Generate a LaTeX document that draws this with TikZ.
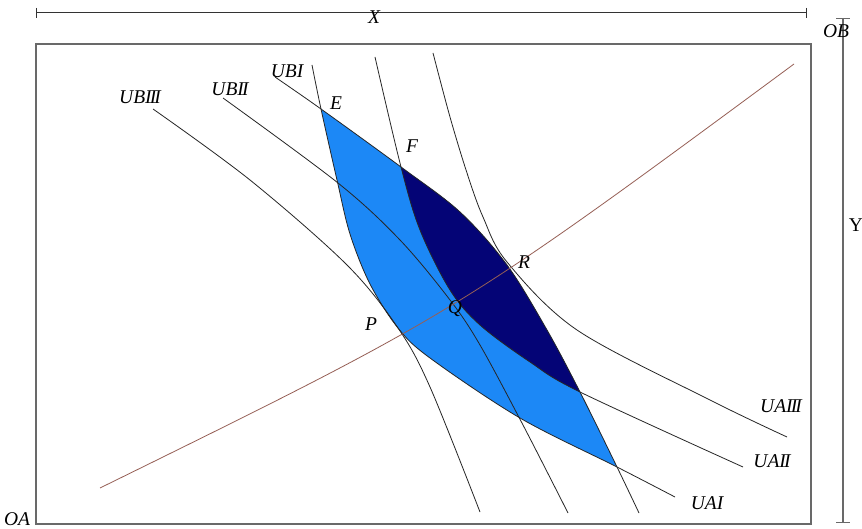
\documentclass[tikz,border=0pt]{standalone}
\usepackage{fontspec}
\setmainfont{Liberation Serif}
\definecolor{lightlens}{RGB}{28,136,246}
\definecolor{darklens}{RGB}{4,4,118}
\definecolor{contractc}{RGB}{150,95,85}
\definecolor{boxc}{RGB}{105,105,105}
\newcommand\rmII{I\kern-0.1em I}
\newcommand\rmIII{I\kern-0.1em I\kern-0.1em I}
\newcommand\pUAI{plot[smooth,tension=0.55] coordinates {(312,65) (321,109) (337,180) (350,234) (370,284) (398,328) (430,358) (520,418) (617,467) (675,497)}}
\newcommand\pUAII{plot[smooth,tension=0.55] coordinates {(375,57) (401,167) (420,230) (450,290) (480,325) (530,362) (580,392) (743,467)}}
\newcommand\pUAIII{plot[smooth,tension=0.55] coordinates {(433,53) (450,117) (467,173) (483,217) (507,262) (577,330) (710,400) (787,437)}}
\newcommand\pUBI{plot[smooth,tension=0.55] coordinates {(275,77) (321,109) (401,167) (460,212) (507,265) (547,330) (580,392) (617,467) (639,513)}}
\newcommand\pUBII{plot[smooth,tension=0.55] coordinates {(223,98) (338,183) (400,240) (450,300) (480,345) (523,425) (568,513)}}
\newcommand\pUBIII{plot[smooth,tension=0.55] coordinates {(153,109) (250,180) (347,265) (398,328) (430,387) (480,512)}}
\begin{document}
\begin{tikzpicture}[x=1pt,y=-1pt,
  lab/.style={font=\fontsize{19.5}{19.5}\selectfont\itshape, inner sep=0pt, text=black},
  curve/.style={draw=black!85, line width=0.8pt},
  contract/.style={draw=contractc, line width=0.8pt},
  frame/.style={draw=boxc, line width=1.4pt},
  dimline/.style={draw=black!80, line width=1pt}]
\useasboundingbox (0,0) rectangle (862,529);
\fill[white] (0,0) rectangle (862,529);
% box
\draw[frame] (36,44) rectangle (811,524);
% fills
\begin{scope}
  \clip \pUAI -- (862,497) -- (862,0) -- (312,0) -- cycle;
  \fill[lightlens] \pUBI -- (0,513) -- (0,77) -- cycle;
\end{scope}
\begin{scope}
  \clip \pUAII -- (862,467) -- (862,0) -- (375,0) -- cycle;
  \fill[darklens] \pUBI -- (0,513) -- (0,77) -- cycle;
\end{scope}
% indifference curves
\draw[curve] \pUAI;
\draw[curve] \pUAII;
\draw[curve] \pUAIII;
\draw[curve] \pUBI;
\draw[curve] \pUBII;
\draw[curve] \pUBIII;
% contract curve
\coordinate (cA) at (100,488);
\coordinate (cB) at (794,64);
\draw[contract] (cA) .. controls (458,312) .. (cB);
% dimension lines
\coordinate (xl) at (36,13);
\coordinate (xr) at (806,13);
\draw[dimline] (xl) -- (xr);
\draw[dimline, line width=0.7pt] (36,8) -- (36,18);
\draw[dimline, line width=0.7pt] (806,8) -- (806,18);
\coordinate (yt) at (843,18);
\coordinate (yb) at (843,522);
\draw[draw=boxc, line width=1.4pt] (yt) -- (yb);
\draw[draw=boxc, line width=0.8pt] (836,18) -- (850,18);
\draw[draw=boxc, line width=0.8pt] (836,522) -- (850,522);
% labels
\node[lab] (lX) at (374,17) {X};
\node[lab] (lOB) at (836,31) {OB};
\node[lab, font=\fontsize{19.5}{19.5}\selectfont] (lY) at (856,225) {Y};
\node[lab] (lOA) at (17,519) {OA};
\node[lab] (lUBIII) at (140,97) {UB\rmIII};
\node[lab] (lUBII) at (230,89) {UB\rmII};
\node[lab] (lUBI) at (287,71) {UBI};
\node[lab] (lE) at (336,103) {E};
\node[lab] (lF) at (412,146) {F};
\node[lab] (lP) at (371,324) {P};
\node[lab] (lQ) at (455,309) {Q};
\node[lab] (lR) at (524,262) {R};
\node[lab] (lUAI) at (707,503) {UAI};
\node[lab] (lUAII) at (772,461) {UA\rmII};
\node[lab] (lUAIII) at (781,406) {UA\rmIII};
\end{tikzpicture}
\end{document}
